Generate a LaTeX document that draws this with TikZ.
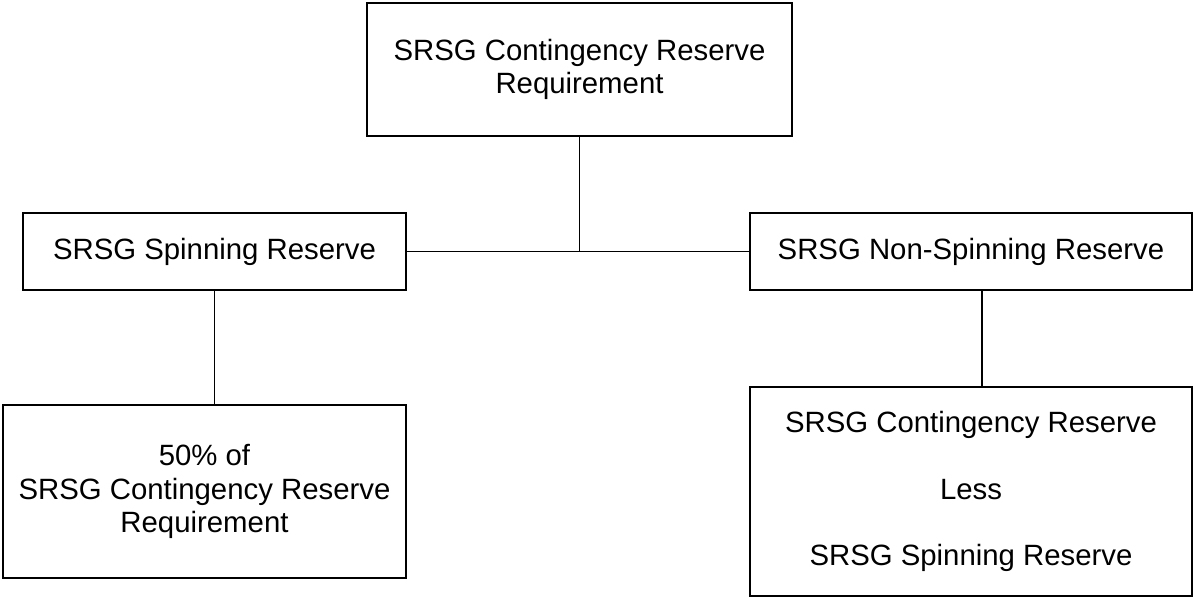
\documentclass[tikz,border=0pt]{standalone}
\usepackage{fontspec}
\setmainfont{Liberation Sans}
\usetikzlibrary{positioning}
\tikzset{blk/.style={draw, line width=0.8pt, inner sep=0pt, align=center, font=\fontsize{16.7}{19}\selectfont}}
\begin{document}
\begin{tikzpicture}[line width=0.8pt]
    \useasboundingbox (0, 0) rectangle (23.88, 11.94);
    \node[blk, minimum width=8.5cm, minimum height=2.66cm] (req) at (11.59, 10.55) {SRSG Contingency Reserve\\Requirement};
    \node[blk, minimum width=7.66cm, minimum height=1.54cm] (spin) at (4.29, 6.91) {SRSG Spinning Reserve};
    \node[blk, minimum width=8.84cm, minimum height=1.54cm] (nspin) at (19.42, 6.91) {SRSG Non-Spinning Reserve};
    \node[blk, minimum width=8.06cm, minimum height=3.46cm] (half) at (4.09, 2.11) {50\% of\\SRSG Contingency Reserve\\Requirement};
    \node[blk, minimum width=8.84cm, minimum height=4.18cm] (less) at (19.42, 2.11) {SRSG Contingency Reserve\\[19pt]Less\\[19pt]SRSG Spinning Reserve};
    \coordinate (mid) at (req.south |- spin.east);
    \draw (req.south) to (mid);
    \draw (spin.east) to (nspin.west);
    \draw (spin.south) to (spin.south |- half.north);
    \draw ([xshift=2.2mm]nspin.south) to ([xshift=2.2mm]nspin.south |- less.north);
  \end{tikzpicture}
\end{document}
